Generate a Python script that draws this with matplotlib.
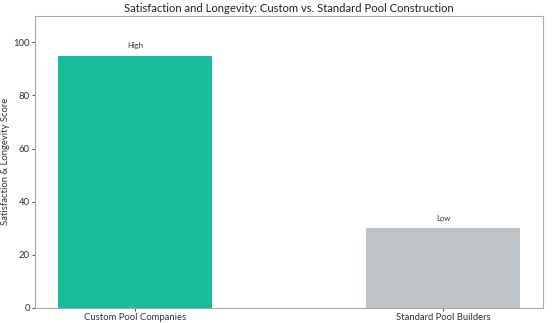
import matplotlib
matplotlib.use("Agg")
import matplotlib.pyplot as plt

# data
categories = ["Custom Pool Companies", "Standard Pool Builders"]
scores = [95, 30]
labels = ["High", "Low"]
colors = ["#1abc9c", "#bdc3c7"]

plt.rcParams["font.family"] = ["Lato", "DejaVu Sans"]

fig = plt.figure(figsize=(5.52, 3.23), dpi=100)
ax = fig.add_axes([0.064, 0.047, 0.920, 0.904])

bars = ax.bar(categories, scores, width=0.5, color=colors)
for b, lab in zip(bars, labels):
    ax.text(b.get_x() + b.get_width() / 2, b.get_height() + 2.5, lab,
            ha="center", va="bottom", fontsize=5.5, color="#333333")

ax.set_ylim(0, 110)
ax.set_title("Satisfaction and Longevity: Custom vs. Standard Pool Construction",
             fontsize=8.1, color="#222222", pad=3)
ax.set_ylabel("Satisfaction & Longevity Score", fontsize=6.8, color="#333333",
              labelpad=2)
ax.tick_params(labelsize=6.8, colors="#333333", length=2.5, width=0.6, pad=1.5)
for s in ax.spines.values():
    s.set_color("#aaaaaa")
    s.set_linewidth(0.8)

fig.savefig("out.png", dpi=100)
